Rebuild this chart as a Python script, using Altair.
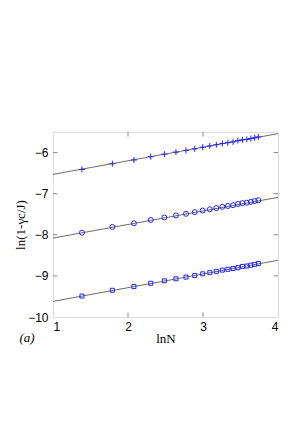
import altair as alt
import pandas as pd

# x values: ln N for N = 4, 6, ..., 42
lnN = [1.386, 1.792, 2.079, 2.303, 2.485, 2.639, 2.773, 2.890, 2.996, 3.091,
       3.178, 3.258, 3.332, 3.401, 3.466, 3.526, 3.584, 3.638, 3.689, 3.738]
top = [-6.41, -6.27, -6.18, -6.10, -6.04, -5.99, -5.95, -5.91, -5.87, -5.84,
       -5.81, -5.78, -5.76, -5.74, -5.71, -5.69, -5.68, -5.66, -5.64, -5.62]
mid = [-7.95, -7.81, -7.72, -7.64, -7.58, -7.53, -7.49, -7.45, -7.41, -7.38,
       -7.35, -7.32, -7.30, -7.28, -7.25, -7.23, -7.22, -7.20, -7.18, -7.16]
bot = [-9.49, -9.35, -9.26, -9.18, -9.12, -9.07, -9.03, -8.99, -8.95, -8.92,
       -8.89, -8.86, -8.84, -8.82, -8.80, -8.77, -8.76, -8.74, -8.72, -8.70]

fit_x = [1, 4]
fit_top = [-6.53, -5.54]
fit_mid = [-8.08, -7.09]
fit_bot = [-9.62, -8.62]

x_ticks = [1, 2, 3, 4]
y_ticks = [-10, -9, -8, -7, -6]
x_inner = [2, 3]
y_inner = [-9, -8, -7, -6]
x_dom = [1, 4]
y_dom = [-10, -5.5]

GRAY = "#5a5a5a"
BLUE = "#2222ff"

xs = alt.Scale(domain=x_dom, nice=False, zero=False)
ys = alt.Scale(domain=y_dom, nice=False, zero=False)

xax = alt.Axis(values=x_ticks, title="lnN", ticks=False, domain=False, grid=False,
               labelFont="Liberation Sans", labelFontSize=12, labelColor="black",
               labelPadding=4, titleFont="Liberation Serif", titleFontSize=13,
               titleFontWeight="normal", titlePadding=0, titleColor="black")
yax = alt.Axis(values=y_ticks, title="ln(1-γc/J)", ticks=False, domain=False, grid=False,
               labelFont="Liberation Sans", labelFontSize=12, labelColor="black",
               labelPadding=5, titleFont="Liberation Serif", titleFontSize=13,
               titleFontWeight="normal", titleColor="black", titlePadding=0)

X = alt.X("x:Q", scale=xs, axis=xax)
Y = alt.Y("y:Q", scale=ys, axis=yax)

def fit(ys_):
    return alt.Chart(pd.DataFrame({"x": fit_x, "y": ys_})).mark_line(
        color=GRAY, strokeWidth=0.9, clip=True).encode(x=X, y=Y)

def pts(ys_, shape, size):
    return alt.Chart(pd.DataFrame({"x": lnN, "y": ys_})).mark_point(
        shape=shape, size=size, filled=False, color=BLUE, strokeWidth=1, opacity=1
    ).encode(x=X, y=Y)

xt = pd.DataFrame([(a, b) for a in x_inner for b in y_dom], columns=["x", "y"])
yt = pd.DataFrame([(a, b) for a in x_dom for b in y_inner], columns=["x", "y"])
ticks_x = alt.Chart(xt).mark_tick(orient="vertical", size=9, thickness=1,
                                  color=GRAY, clip=True).encode(x=X, y=Y)
ticks_y = alt.Chart(yt).mark_tick(orient="horizontal", size=9, thickness=1,
                                  color=GRAY, clip=True).encode(x=X, y=Y)

label = alt.Chart(pd.DataFrame({"t": ["(a)"]})).mark_text(
    font="Liberation Serif", fontSize=13, fontStyle="italic", fill="black",
    align="center", baseline="middle"
).encode(text="t:N", x=alt.value(-26), y=alt.value(206))

chart = alt.layer(
    ticks_x, ticks_y,
    fit(fit_top), fit(fit_mid), fit(fit_bot),
    pts(top, "M-1,0L1,0M0,-1L0,1", 36),
    pts(mid, "circle", 25),
    pts(bot, "square", 16),
    label,
).properties(
    width=225, height=185,
    autosize=alt.AutoSizeParams(type="none"),
    padding={"left": 45, "top": 124, "right": 10, "bottom": 100},
).configure_view(stroke=GRAY, strokeWidth=1).configure(background="white")

chart.save("out.html", embed_options={"renderer": "svg", "actions": False})
